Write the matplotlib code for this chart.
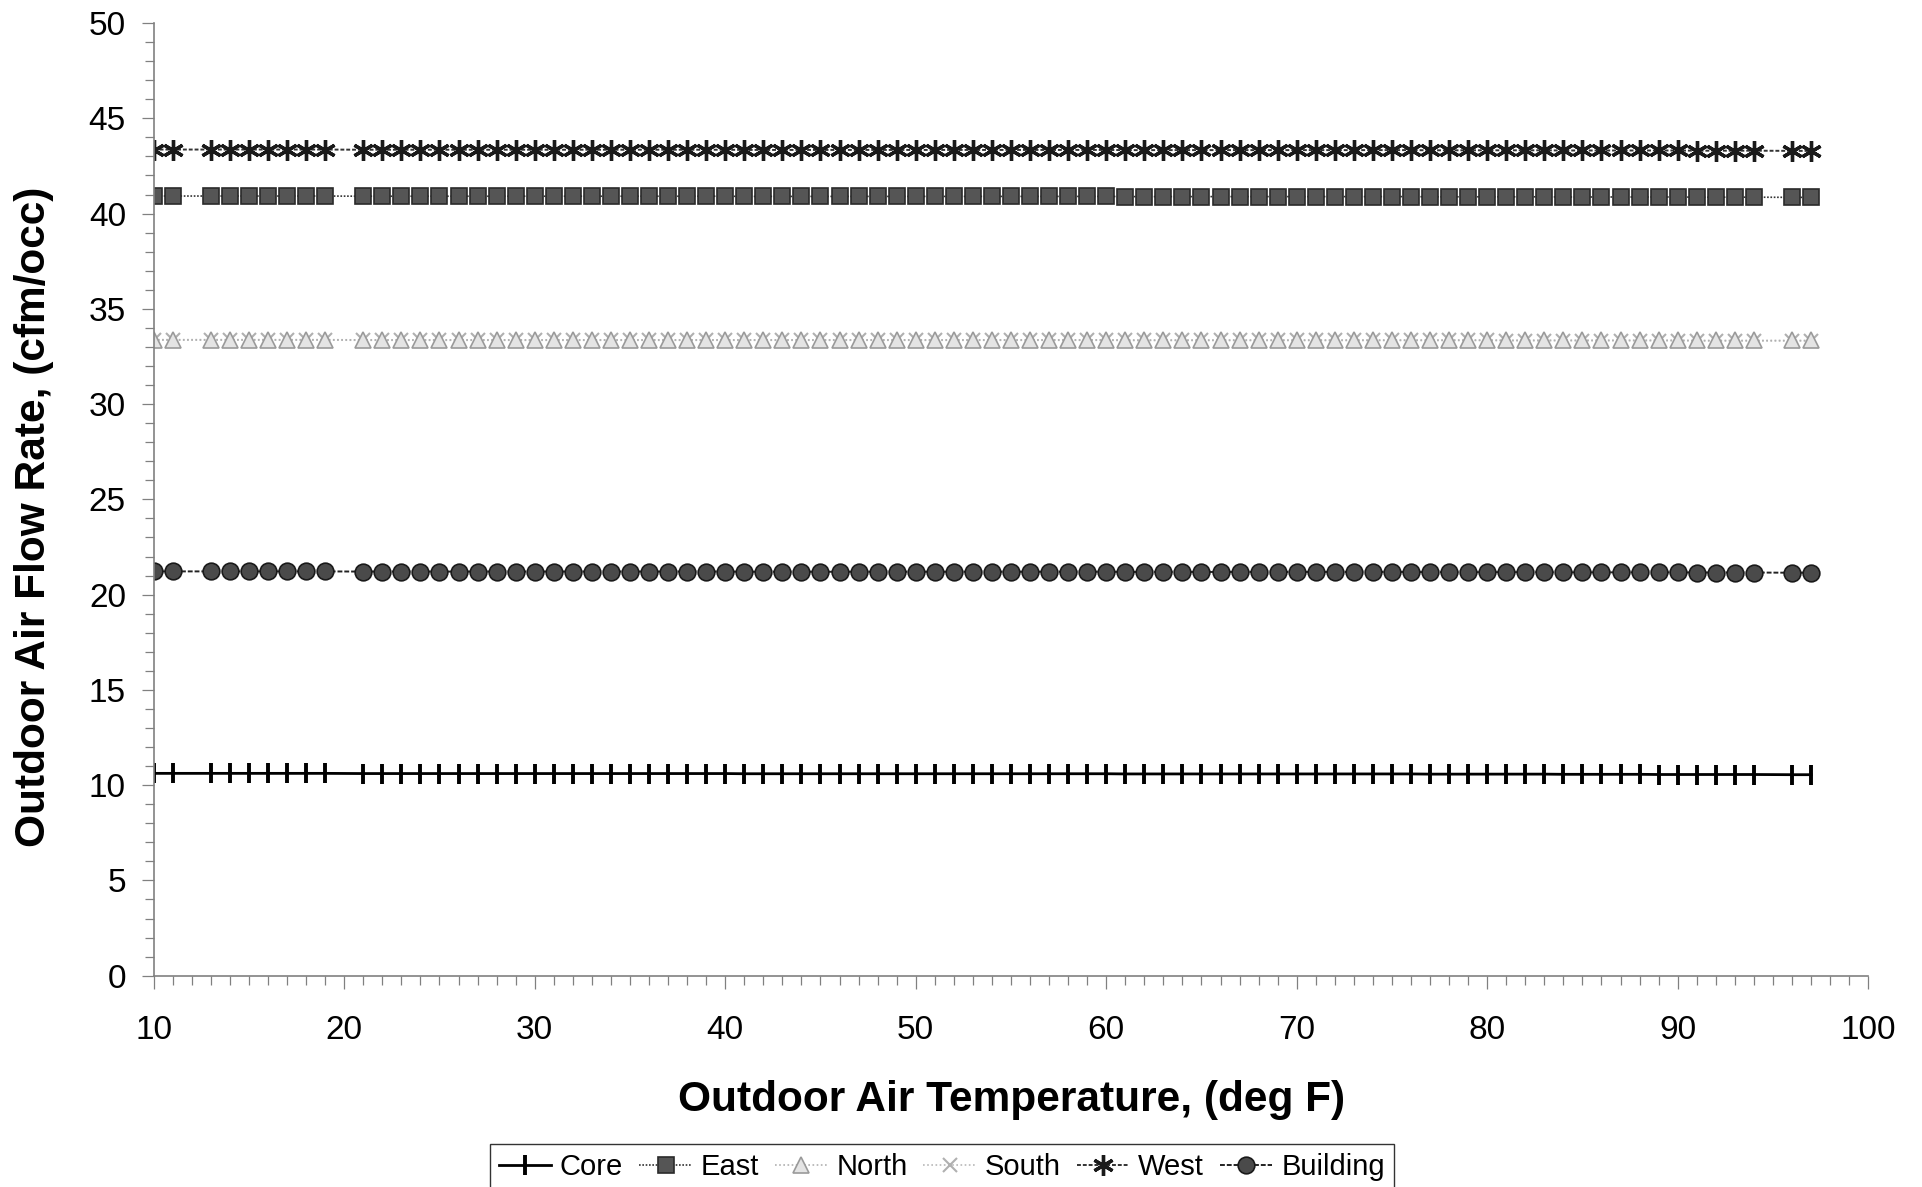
import matplotlib.pyplot as plt
from matplotlib.ticker import MultipleLocator

plt.rcParams['font.family'] = ['Liberation Sans', 'DejaVu Sans']

# outdoor air temperature (deg F) - 12, 20 and 95 have no data
temp = [10, 11, 13, 14, 15, 16, 17, 18, 19,
        21, 22, 23, 24, 25, 26, 27, 28, 29, 30, 31, 32, 33, 34, 35, 36, 37, 38, 39, 40,
        41, 42, 43, 44, 45, 46, 47, 48, 49, 50, 51, 52, 53, 54, 55, 56, 57, 58, 59, 60,
        61, 62, 63, 64, 65, 66, 67, 68, 69, 70, 71, 72, 73, 74, 75, 76, 77, 78, 79, 80,
        81, 82, 83, 84, 85, 86, 87, 88, 89, 90, 91, 92, 93, 94, 96, 97]

core = [10.62, 10.62, 10.62, 10.62, 10.62, 10.62, 10.62, 10.62, 10.62,
        10.61, 10.61, 10.61, 10.61, 10.61, 10.61, 10.61, 10.61, 10.61, 10.61, 10.61, 10.61, 10.61, 10.61, 10.61, 10.61, 10.61, 10.61, 10.61, 10.61,
        10.6, 10.6, 10.6, 10.6, 10.6, 10.6, 10.6, 10.6, 10.6, 10.6, 10.6, 10.6, 10.6, 10.6, 10.6, 10.6, 10.6, 10.6, 10.6, 10.6,
        10.59, 10.59, 10.59, 10.59, 10.59, 10.59, 10.59, 10.59, 10.59, 10.59, 10.59, 10.59, 10.59, 10.59, 10.59, 10.59, 10.58, 10.58, 10.58, 10.58,
        10.58, 10.58, 10.58, 10.57, 10.57, 10.57, 10.57, 10.57, 10.56, 10.56, 10.56, 10.56, 10.56, 10.56, 10.55, 10.55]

east = [40.92, 40.92, 40.92, 40.92, 40.92, 40.92, 40.92, 40.92, 40.92,
        40.91, 40.91, 40.91, 40.91, 40.91, 40.91, 40.91, 40.91, 40.91, 40.91, 40.91, 40.91, 40.91, 40.91, 40.91, 40.91, 40.91, 40.91, 40.91, 40.91,
        40.9, 40.9, 40.9, 40.9, 40.9, 40.9, 40.9, 40.9, 40.9, 40.9, 40.9, 40.9, 40.9, 40.9, 40.9, 40.9, 40.9, 40.9, 40.9, 40.9,
        40.89, 40.89, 40.89, 40.89, 40.89, 40.89, 40.89, 40.89, 40.89, 40.89, 40.89, 40.89, 40.89, 40.89, 40.89, 40.89, 40.88, 40.88, 40.88, 40.88,
        40.88, 40.88, 40.88, 40.87, 40.87, 40.87, 40.87, 40.87, 40.87, 40.87, 40.86, 40.86, 40.86, 40.86, 40.85, 40.85]

north = [33.38, 33.38, 33.38, 33.38, 33.38, 33.38, 33.38, 33.38, 33.38,
         33.37, 33.37, 33.37, 33.37, 33.37, 33.37, 33.37, 33.37, 33.37, 33.37, 33.37, 33.37, 33.37, 33.37, 33.37, 33.37, 33.37, 33.37, 33.37, 33.37,
         33.37, 33.37, 33.37, 33.37, 33.37, 33.37, 33.37, 33.37, 33.37, 33.37, 33.37, 33.37, 33.37, 33.37, 33.37, 33.37, 33.37, 33.37, 33.37, 33.37,
         33.36, 33.36, 33.36, 33.36, 33.36, 33.36, 33.36, 33.36, 33.36, 33.36, 33.36, 33.36, 33.36, 33.36, 33.36, 33.36, 33.36, 33.36, 33.36, 33.36,
         33.35, 33.35, 33.35, 33.35, 33.35, 33.35, 33.35, 33.35, 33.35, 33.35, 33.34, 33.34, 33.34, 33.34, 33.34, 33.34]

south = [33.36, 33.36, 33.36, 33.36, 33.36, 33.36, 33.36, 33.36, 33.36,
         33.35, 33.35, 33.35, 33.35, 33.35, 33.35, 33.35, 33.35, 33.35, 33.35, 33.35, 33.35, 33.35, 33.35, 33.35, 33.35, 33.35, 33.35, 33.35, 33.35,
         33.35, 33.35, 33.35, 33.35, 33.35, 33.35, 33.35, 33.35, 33.35, 33.35, 33.35, 33.35, 33.35, 33.35, 33.35, 33.35, 33.35, 33.35, 33.35, 33.35,
         33.34, 33.34, 33.34, 33.34, 33.34, 33.34, 33.34, 33.34, 33.34, 33.34, 33.34, 33.34, 33.34, 33.34, 33.34, 33.34, 33.34, 33.34, 33.34, 33.34,
         33.33, 33.33, 33.33, 33.33, 33.33, 33.33, 33.33, 33.33, 33.33, 33.33, 33.32, 33.32, 33.32, 33.32, 33.32, 33.32]

west = [43.36, 43.36, 43.36, 43.36, 43.36, 43.36, 43.36, 43.36, 43.36,
        43.35, 43.35, 43.35, 43.35, 43.35, 43.35, 43.35, 43.35, 43.35, 43.35, 43.35, 43.35, 43.35, 43.35, 43.35, 43.35, 43.35, 43.35, 43.35, 43.35,
        43.34, 43.34, 43.34, 43.34, 43.34, 43.34, 43.34, 43.34, 43.34, 43.34, 43.34, 43.34, 43.34, 43.34, 43.34, 43.34, 43.34, 43.34, 43.34, 43.34,
        43.33, 43.33, 43.33, 43.33, 43.33, 43.33, 43.33, 43.33, 43.33, 43.33, 43.33, 43.33, 43.33, 43.33, 43.33, 43.33, 43.32, 43.32, 43.32, 43.32,
        43.32, 43.32, 43.32, 43.31, 43.31, 43.31, 43.31, 43.31, 43.31, 43.31, 43.3, 43.3, 43.3, 43.3, 43.29, 43.29]

building = [21.22, 21.22, 21.22, 21.22, 21.22, 21.22, 21.22, 21.22, 21.22,
            21.21, 21.21, 21.21, 21.21, 21.21, 21.21, 21.21, 21.21, 21.21, 21.21, 21.21, 21.21, 21.21, 21.21, 21.21, 21.21, 21.21, 21.21, 21.21, 21.21,
            21.2, 21.2, 21.2, 21.2, 21.2, 21.2, 21.2, 21.2, 21.2, 21.2, 21.2, 21.2, 21.2, 21.2, 21.2, 21.2, 21.2, 21.2, 21.2, 21.2,
            21.19, 21.19, 21.19, 21.19, 21.19, 21.19, 21.19, 21.19, 21.19, 21.19, 21.19, 21.19, 21.19, 21.19, 21.19, 21.19, 21.18, 21.18, 21.18, 21.18,
            21.18, 21.18, 21.18, 21.17, 21.17, 21.17, 21.17, 21.17, 21.17, 21.17, 21.16, 21.16, 21.16, 21.16, 21.15, 21.15]

fig = plt.figure(figsize=(19.22, 11.87), dpi=100)
ax = fig.add_axes([0.080, 0.178, 0.892, 0.8026])

ax.plot(temp, core, color='black', lw=2, marker='|', ms=14, mew=2.8, label='Core')
ax.plot(temp, east, color='#333333', lw=1.2, ls=(0, (1, 1)), marker='s', ms=11.5,
        mfc='#555555', mec='#2a2a2a', mew=1.2, label='East')
ax.plot(temp, north, color='#b0b0b0', lw=1.2, ls=(0, (1, 1.5)), marker='^', ms=11.5,
        mfc='#e4e4e4', mec='#9a9a9a', mew=1.2, label='North')
ax.plot(temp, south, color='#b8b8b8', lw=1.2, ls=(0, (1, 1.5)), marker='x', ms=10,
        mec='#b0b0b0', mew=1.5, label='South', zorder=1.9)
ax.plot(temp, west, color='#333333', lw=1.4, ls=(0, (2, 1)), marker=(6, 2, 0), ms=15,
        mec='#1a1a1a', mew=2.4, label='West')
ax.plot(temp, building, color='#222222', lw=1.4, ls=(0, (2.5, 1)), marker='o', ms=12,
        mfc='#4a4a4a', mec='#1a1a1a', mew=1.2, label='Building')

ax.set_xlim(10, 100)
ax.set_ylim(0, 50)
ax.xaxis.set_major_locator(MultipleLocator(10))
ax.xaxis.set_minor_locator(MultipleLocator(1))
ax.yaxis.set_major_locator(MultipleLocator(5))
ax.yaxis.set_minor_locator(MultipleLocator(1))

for s in ['top', 'right']:
    ax.spines[s].set_visible(False)
for s in ['left', 'bottom']:
    ax.spines[s].set_color('#808080')
    ax.spines[s].set_linewidth(1.2)

ax.tick_params(axis='both', which='major', length=9, width=0.9, color='#808080',
               labelsize=24)
ax.tick_params(axis='both', which='minor', length=6.5, width=0.9, color='#808080')
ax.tick_params(axis='y', which='major', pad=11)
ax.tick_params(axis='x', which='major', pad=19)

fig.text(0.5265, 0.073, 'Outdoor Air Temperature, (deg F)', ha='center', va='center',
         fontsize=30.5, fontweight='bold')
fig.text(0.0175, 0.565, 'Outdoor Air Flow Rate, (cfm/occ)', ha='center', va='center',
         rotation=90, fontsize=30.5, fontweight='bold')

leg = fig.legend(loc='upper center', bbox_to_anchor=(0.49, 0.036), ncol=6,
                 fontsize=21, frameon=True, fancybox=False, handlelength=1.8,
                 handletextpad=0.3, columnspacing=0.55, borderpad=0.3,
                 borderaxespad=0, markerscale=1.0)
leg.get_frame().set_edgecolor('black')
leg.get_frame().set_linewidth(1.0)

fig.savefig('out.png', dpi=100)
